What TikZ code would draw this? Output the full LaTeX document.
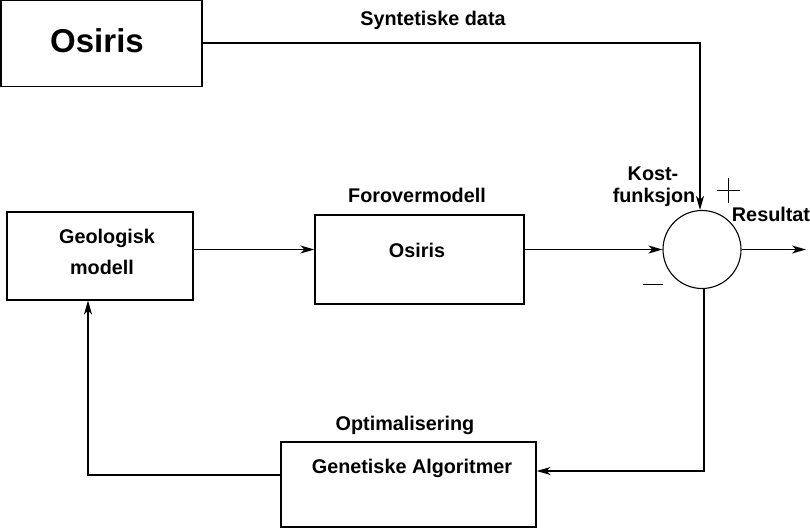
\documentclass[tikz,border=0pt]{standalone}
\usepackage{fontspec}
\setmainfont{Liberation Sans}
\usetikzlibrary{arrows.meta}
\begin{document}
\begin{tikzpicture}[x=1pt,y=-1pt,
  box/.style={draw, line width=1.3pt, inner sep=0pt},
  lbl/.style={font=\fontsize{19.8}{22}\selectfont\bfseries, inner sep=0pt},
  conn/.style={line width=1.6pt},
  arr/.style={conn, -{Stealth[length=14pt,width=8pt,inset=4pt]}},
  sumnode/.style={draw, circle, line width=1.1pt, minimum size=78pt, inner sep=0pt},
  signbar/.style={line width=1pt}]
\useasboundingbox (0,0) rectangle (810,528);
% boxes
\node[box, minimum width=201pt, minimum height=86pt] (osiristop) at (101.5,43.5) {};
\node[lbl, font=\fontsize{33}{36}\selectfont\bfseries] (osiristxt) at (97,41) {Osiris};
\node[box, minimum width=186pt, minimum height=88pt] (geo) at (100,256) {};
\node[lbl] (geo1) at (107,238) {Geologisk};
\node[lbl] (geo2) at (102,267) {modell};
\node[box, minimum width=209pt, minimum height=89pt] (fwd) at (419.5,259.5) {};
\node[lbl] (fwdtxt) at (417,250) {Osiris};
\node[box, minimum width=255pt, minimum height=85pt] (ga) at (408.5,484.5) {};
\node[lbl] (gatxt) at (412,468) {Genetiske Algoritmer};
\node[sumnode] (sum) at (702,249.5) {};
% labels
\node[lbl] (synt) at (433,20) {Syntetiske data};
\node[lbl] (forov) at (417,195) {Forovermodell};
\node[lbl] (optim) at (405,425) {Optimalisering};
\node[lbl] (kost1) at (653,174) {Kost-};
\node[lbl] (kost2) at (654,197) {funksjon};
\node[lbl] (res) at (771,214) {Resultat};
% plus and minus signs
\node[inner sep=0pt, minimum width=23pt, minimum height=25pt] (plus) at (728.5,190.5) {};
\draw[signbar] (plus.west) -- (plus.east) (plus.north) -- (plus.south);
\node[inner sep=0pt, minimum width=20pt, minimum height=2pt] (minus) at (653,284) {};
\draw[signbar] (minus.west) -- (minus.east);
% coordinates
\coordinate (topbend) at (700,43);
\coordinate (outend) at (806,249.5);
\coordinate (botbend) at (704,471);
\coordinate (leftbend) at (88,475);
\coordinate (geoin) at (88,300.5);
% connectors
\draw[arr] (osiristop.east |- topbend) -- (topbend) -- (topbend |- sum.north);
\draw[arr] (geo.east |- sum.west) -- (fwd.west |- sum.west);
\draw[arr] (fwd.east |- sum.west) -- (sum.west);
\draw[arr] (sum.east) -- (outend);
\draw[arr] (botbend |- sum.south) -- (botbend) -- (ga.east |- botbend);
\draw[arr] (ga.west |- leftbend) -- (leftbend) -- (geoin);
\end{tikzpicture}
\end{document}
